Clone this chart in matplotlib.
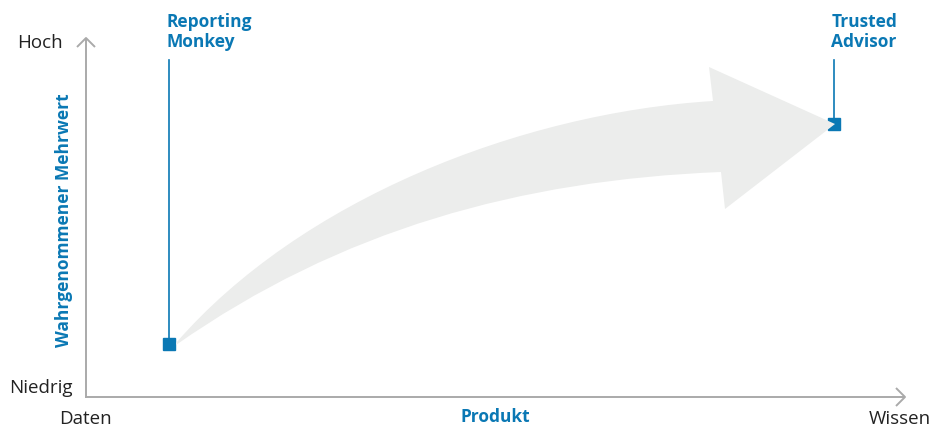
import matplotlib
matplotlib.use("Agg")
from matplotlib import pyplot as plt
from matplotlib.path import Path
from matplotlib.patches import PathPatch
from matplotlib.lines import Line2D

plt.rcParams['font.family'] = ['Open Sans', 'DejaVu Sans']

# data: stages on the knowledge axis (0 = Daten, 1 = Wissen)
# and perceived value (0 = Niedrig, 1 = Hoch)
stages = ['Reporting\nMonkey', 'Trusted\nAdvisor']
knowledge = [0.101, 0.913]
value = [0.148, 0.760]
x_ends = ['Daten', 'Wissen']
y_ends = ['Niedrig', 'Hoch']
x_title = 'Produkt'
y_title = 'Wahrgenommener Mehrwert'

blue = '#0a78b4'
grey = '#aaaaaa'
arrow_grey = '#ecedec'
W, H = 933, 430

fig = plt.figure(figsize=(W / 100, H / 100), dpi=100)


def fp(x, y):
    # pixel (from top-left) -> figure fraction
    return x / W, 1 - y / H


# plot area
x0, x1, y0, y1 = 86, 905, 397, 38
ax = fig.add_axes([x0 / W, 1 - y0 / H, (x1 - x0) / W, (y0 - y1) / H])
ax.set_xlim(0, 1)
ax.set_ylim(0, 1)
ax.axis('off')

# big curved arrow in the background
pts = [
    (176, 343),
    (300, 200), (520, 113), (713, 101),
    (709, 67),
    (835, 124),
    (725, 209),
    (721, 172),
    (520, 180), (340, 230), (176, 345),
    (176, 343),
]
codes = [Path.MOVETO,
         Path.CURVE4, Path.CURVE4, Path.CURVE4,
         Path.LINETO, Path.LINETO, Path.LINETO, Path.LINETO,
         Path.CURVE4, Path.CURVE4, Path.CURVE4,
         Path.CLOSEPOLY]
arrow = PathPatch(Path([fp(*p) for p in pts], codes), transform=fig.transFigure,
                  facecolor=arrow_grey, edgecolor='none', zorder=0)
fig.patches.append(arrow)

# axes with open arrow heads
def fline(xs, ys, **kw):
    fig.lines.append(Line2D([x / W for x in xs], [1 - y / H for y in ys],
                            transform=fig.transFigure, **kw))

kw = dict(color=grey, lw=1.4, solid_capstyle='butt')
fline([86, 86], [398, 38], **kw)
fline([77, 86, 95], [47, 38, 47], **kw)
fline([85.3, 905], [397, 397], **kw)
fline([896, 905, 896], [388, 397, 406], **kw)

# stage markers with leader lines and labels
top = 0.939
for s, kx, vy in zip(stages, knowledge, value):
    ax.plot([kx, kx], [vy, top], color=blue, lw=1.2, zorder=2, clip_on=False)
    ax.plot(kx, vy, marker='s', ms=8, color=blue, zorder=3, clip_on=False)
    ax.text(kx - 0.003, 1.017, s, ha='left', va='center', fontsize=12.5,
            fontweight='bold', color=blue, linespacing=1.15,
            transform=ax.transData, clip_on=False)

txt = dict(fontsize=13.5, color='#222222')
fig.text(*fp(63, 43), y_ends[1], ha='right', va='center', **txt)
fig.text(*fp(73, 388), y_ends[0], ha='right', va='center', **txt)
fig.text(*fp(85, 419), x_ends[0], ha='center', va='center', **txt)
fig.text(*fp(900, 419), x_ends[1], ha='center', va='center', **txt)
fig.text(*fp(495, 417), x_title, ha='center', va='center', fontsize=12.5,
         fontweight='bold', color=blue)
fig.text(*fp(64, 220), y_title, ha='center', va='center', rotation=90,
         fontsize=12.5, fontweight='bold', color=blue)

fig.savefig('out.png', dpi=100, facecolor='white')
